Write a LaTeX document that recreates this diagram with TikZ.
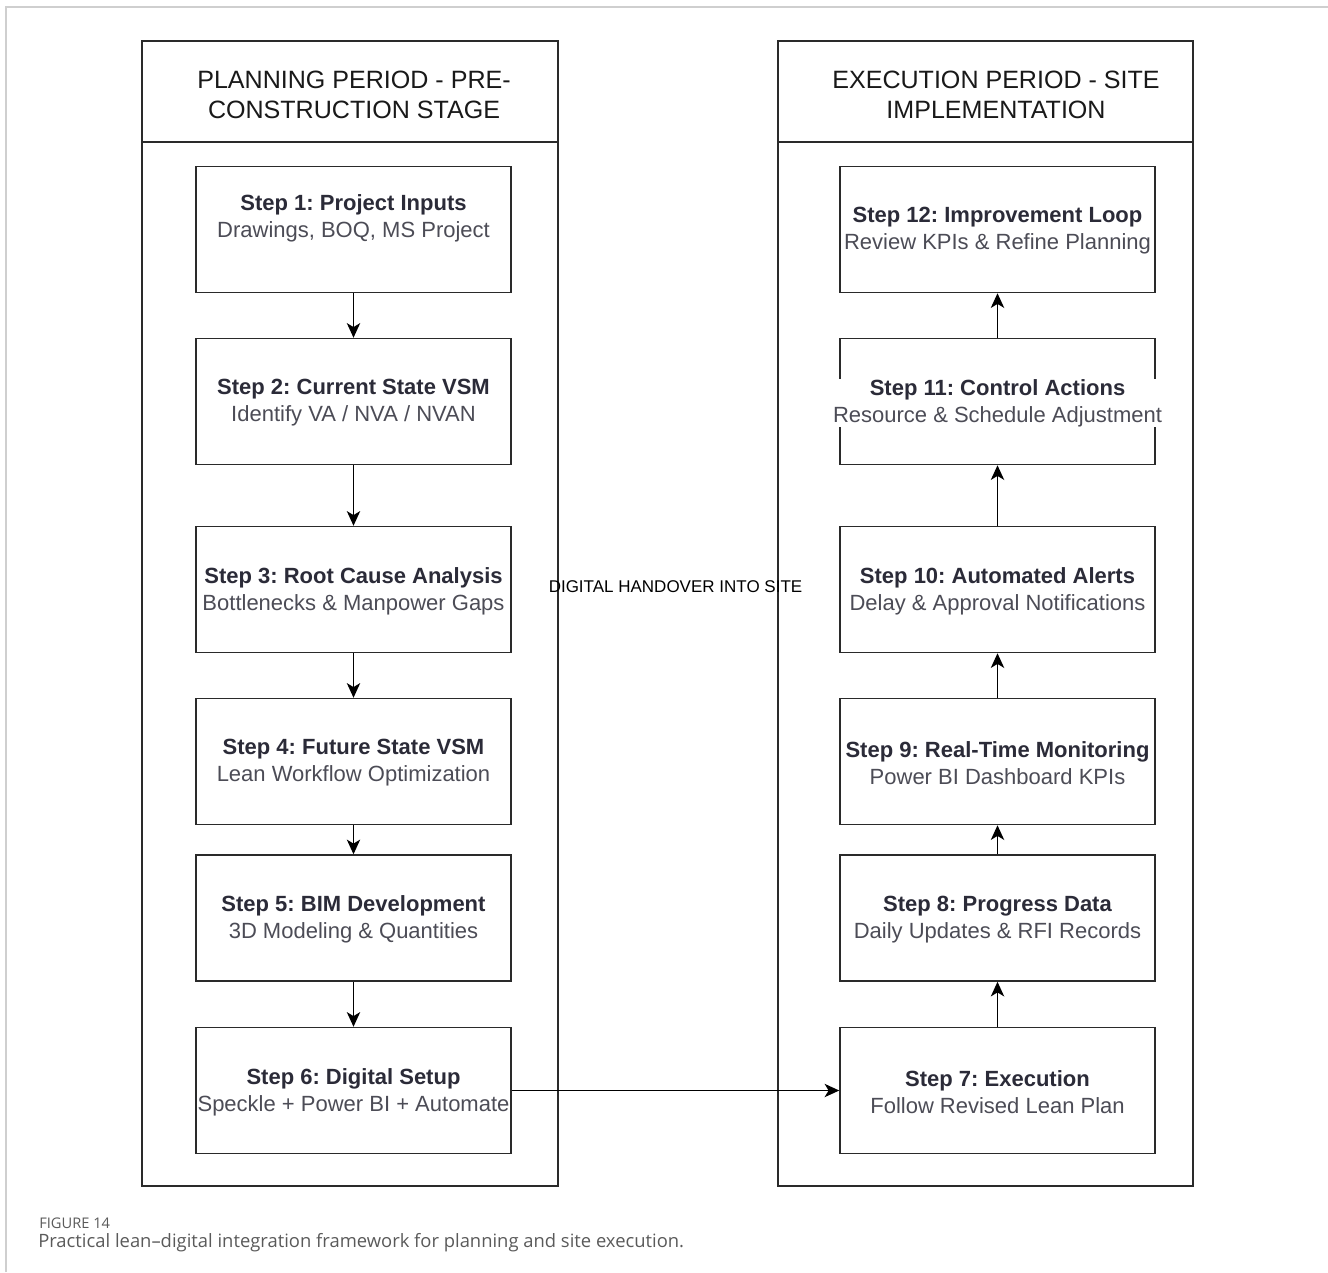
\documentclass[tikz,border=0pt]{standalone}
\usepackage{fontspec}
\setmainfont{Liberation Sans}
\newfontfamily\capfont{Open Sans}
\usetikzlibrary{arrows.meta}
\frenchspacing
\definecolor{titlecol}{HTML}{2B2B38}
\definecolor{subcol}{HTML}{4C4C56}
\definecolor{linecol}{HTML}{2A2A2A}
\definecolor{framecol}{HTML}{CFCFCF}
\definecolor{capcol}{HTML}{5A5A5A}
\tikzset{
  lane/.style={draw=linecol, line width=1.1pt},
  stepbox/.style={draw=linecol, line width=1.1pt, minimum width=236.25pt, minimum height=94.5pt, inner sep=0pt},
  steptext/.style={fill=white, inner sep=0pt, align=center, font=\fontsize{16.5}{20.25}\selectfont},
  headtext/.style={align=center, text=black!90, font=\fontsize{18.8}{22.5}\selectfont},
  flow/.style={draw=black, line width=1.1pt, -{Stealth[length=11pt, width=10pt, inset=3pt]}},
}
\newcommand{\steplabel}[2]{{\bfseries\color{titlecol}#1}\\{\color{subcol}#2}}
\begin{document}
\begin{tikzpicture}[x=0.75pt, y=-0.75pt]
  % page extent and outer frame
  \useasboundingbox (0,0) rectangle (1328,1272);
  \draw[framecol, line width=1pt] (6,1272) -- (6,7) -- (1328,7);

  % swimlanes
  \draw[lane] (142,41) rectangle (558,1186);
  \draw[linecol, line width=2pt] (142,142) -- (558,142);
  \draw[lane] (778,41) rectangle (1193,1186);
  \draw[linecol, line width=2pt] (778,142) -- (1193,142);
  \node[headtext] (hplan) at (354,95) {PLANNING PERIOD - PRE-\\CONSTRUCTION STAGE};
  \node[headtext] (hexec) at (996,95) {EXECUTION PERIOD - SITE\\IMPLEMENTATION};

  % planning steps
  \node[stepbox] (s1) at (353.5,229.5) {};
  \node[stepbox] (s2) at (353.5,401.5) {};
  \node[stepbox] (s3) at (353.5,589.5) {};
  \node[stepbox] (s4) at (353.5,761.5) {};
  \node[stepbox] (s5) at (353.5,918) {};
  \node[stepbox] (s6) at (353.5,1090.5) {};
  % execution steps
  \node[stepbox] (s12) at (997.5,229.5) {};
  \node[stepbox] (s11) at (997.5,401.5) {};
  \node[stepbox] (s10) at (997.5,589.5) {};
  \node[stepbox] (s9) at (997.5,761.5) {};
  \node[stepbox] (s8) at (997.5,918) {};
  \node[stepbox] (s7) at (997.5,1090.5) {};

  % step texts
  \node[steptext] (t1) at (353.5,218) {\steplabel{Step 1: Project Inputs}{Drawings, BOQ, MS Project}};
  \node[steptext] (t2) at ([yshift=-1pt]s2.center) {\steplabel{Step 2: Current State VSM}{Identify VA / NVA / NVAN}};
  \node[steptext] (t3) at ([yshift=-1pt]s3.center) {\steplabel{Step 3: Root Cause Analysis}{Bottlenecks \& Manpower Gaps}};
  \node[steptext] (t4) at ([yshift=-1pt]s4.center) {\steplabel{Step 4: Future State VSM}{Lean Workflow Optimization}};
  \node[steptext] (t5) at ([yshift=-1pt]s5.center) {\steplabel{Step 5: BIM Development}{3D Modeling \& Quantities}};
  \node[steptext] (t6) at ([yshift=-1pt]s6.center) {\steplabel{Step 6: Digital Setup}{Speckle + Power BI + Automate}};
  \node[steptext] (t7) at ([yshift=-1pt]s7.center) {\steplabel{Step 7: Execution}{Follow Revised Lean Plan}};
  \node[steptext] (t8) at ([yshift=-1pt]s8.center) {\steplabel{Step 8: Progress Data}{Daily Updates \& RFI Records}};
  \node[steptext] (t9) at ([yshift=-1pt]s9.center) {\steplabel{Step 9: Real-Time Monitoring}{Power BI Dashboard KPIs}};
  \node[steptext] (t10) at ([yshift=-1pt]s10.center) {\steplabel{Step 10: Automated Alerts}{Delay \& Approval Notifications}};
  \node[steptext] (t11) at ([yshift=-1pt]s11.center) {\steplabel{Step 11: Control Actions}{Resource \& Schedule Adjustment}};
  \node[steptext] (t12) at ([yshift=-1pt]s12.center) {\steplabel{Step 12: Improvement Loop}{Review KPIs \& Refine Planning}};

  % planning flow (downwards)
  \draw[flow] (s1) -- (s2);
  \draw[flow] (s2) -- (s3);
  \draw[flow] (s3) -- (s4);
  \draw[flow] (s4) -- (s5);
  \draw[flow] (s5) -- (s6);
  % handover into execution
  \draw[flow] (s6.east) -- (s7.west);
  % execution flow (upwards)
  \draw[flow] (s7) -- (s8);
  \draw[flow] (s8) -- (s9);
  \draw[flow] (s9) -- (s10);
  \draw[flow] (s10) -- (s11);
  \draw[flow] (s11) -- (s12);

  \node[text=black, font=\fontsize{12.75}{15}\selectfont] (handover) at (675.5,587) {DIGITAL HANDOVER INTO SITE};

  % caption
  \node[anchor=west, inner sep=0pt, text=capcol, font=\capfont\fontsize{11}{13}\selectfont] (fig) at (39,1223) {FIGURE 14};
  \node[anchor=west, inner sep=0pt, text=capcol, font=\capfont\fontsize{13.8}{16}\selectfont] (cap) at (38,1243) {Practical lean–digital integration framework for planning and site execution.};
\end{tikzpicture}
\end{document}
